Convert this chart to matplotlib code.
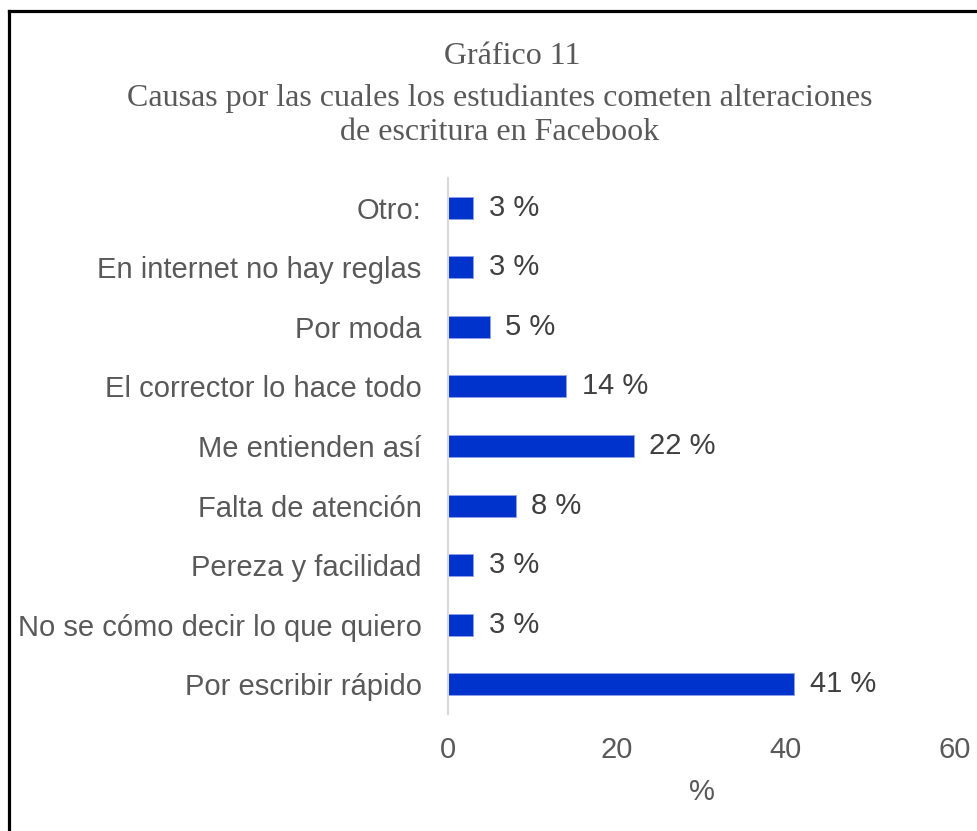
import matplotlib
matplotlib.use("Agg")
import matplotlib.pyplot as plt
from matplotlib.lines import Line2D

categories = ["Por escribir rápido", "No se cómo decir lo que quiero", "Pereza y facilidad",
              "Falta de atención", "Me entienden así", "El corrector lo hace todo",
              "Por moda", "En internet no hay reglas", "Otro:"]
values = [41, 3, 3, 8, 22, 14, 5, 3, 3]
xticks = [0, 20, 40, 60]

W, H = 978, 831
fig = plt.figure(figsize=(W / 100, H / 100), dpi=100)
ax = fig.add_axes([448 / W, 1 - 714 / H, (955 - 448) / W, (714 - 178) / H])

bar_color = "#0033CC"
ax.barh(range(len(categories)), values, height=0.37, color=bar_color, edgecolor="#8FA3E6", linewidth=0.6)
ax.set_xlim(0, 60)
ax.set_ylim(-0.5, len(categories) - 0.5)
ax.set_xticks(xticks)
ax.set_yticks(range(len(categories)))
ax.set_yticklabels(categories)

FS = 21
sans = ["Liberation Sans", "DejaVu Sans"]
for lab in ax.get_yticklabels():
    lab.set_fontfamily(sans)
    lab.set_fontsize(FS)
    lab.set_color("#595959")
for lab in ax.get_xticklabels():
    lab.set_fontfamily(sans)
    lab.set_fontsize(FS)
    lab.set_color("#595959")
ax.tick_params(axis="y", length=0, pad=19)
ax.tick_params(axis="x", length=0, pad=16)

for s in ["top", "right", "bottom"]:
    ax.spines[s].set_visible(False)
ax.spines["left"].set_color("#D9D9D9")
ax.spines["left"].set_linewidth(1.5)

for i, v in enumerate(values):
    ax.text(v + 1.8, i, f"{v} %", va="center", ha="left", fontsize=FS,
            family=sans, color="#404040")

ax.set_xlabel("%", fontsize=FS, family=sans, color="#595959", labelpad=10)

serif = ["Liberation Serif", "DejaVu Serif"]
fig.text(512 / W, 1 - 57 / H, "Gráfico 11", ha="center", va="center", fontsize=23,
         family=serif, color="#595959")
fig.text(499.5 / W, 1 - 98 / H, "Causas por las cuales los estudiantes cometen alteraciones",
         ha="center", va="center", fontsize=23, family=serif, color="#595959")
fig.text(500 / W, 1 - 133 / H, "de escritura en Facebook", ha="center", va="center",
         fontsize=23, family=serif, color="#595959")

# border (left and top edges)
fig.add_artist(Line2D([9 / W, 9 / W], [0, 1 - 11 / H], transform=fig.transFigure,
                      color="black", linewidth=2.3, solid_capstyle="projecting"))
fig.add_artist(Line2D([9 / W, 1], [1 - 11 / H, 1 - 11 / H], transform=fig.transFigure,
                      color="black", linewidth=2.3, solid_capstyle="projecting"))

fig.savefig("out.png", dpi=100, facecolor="white")
